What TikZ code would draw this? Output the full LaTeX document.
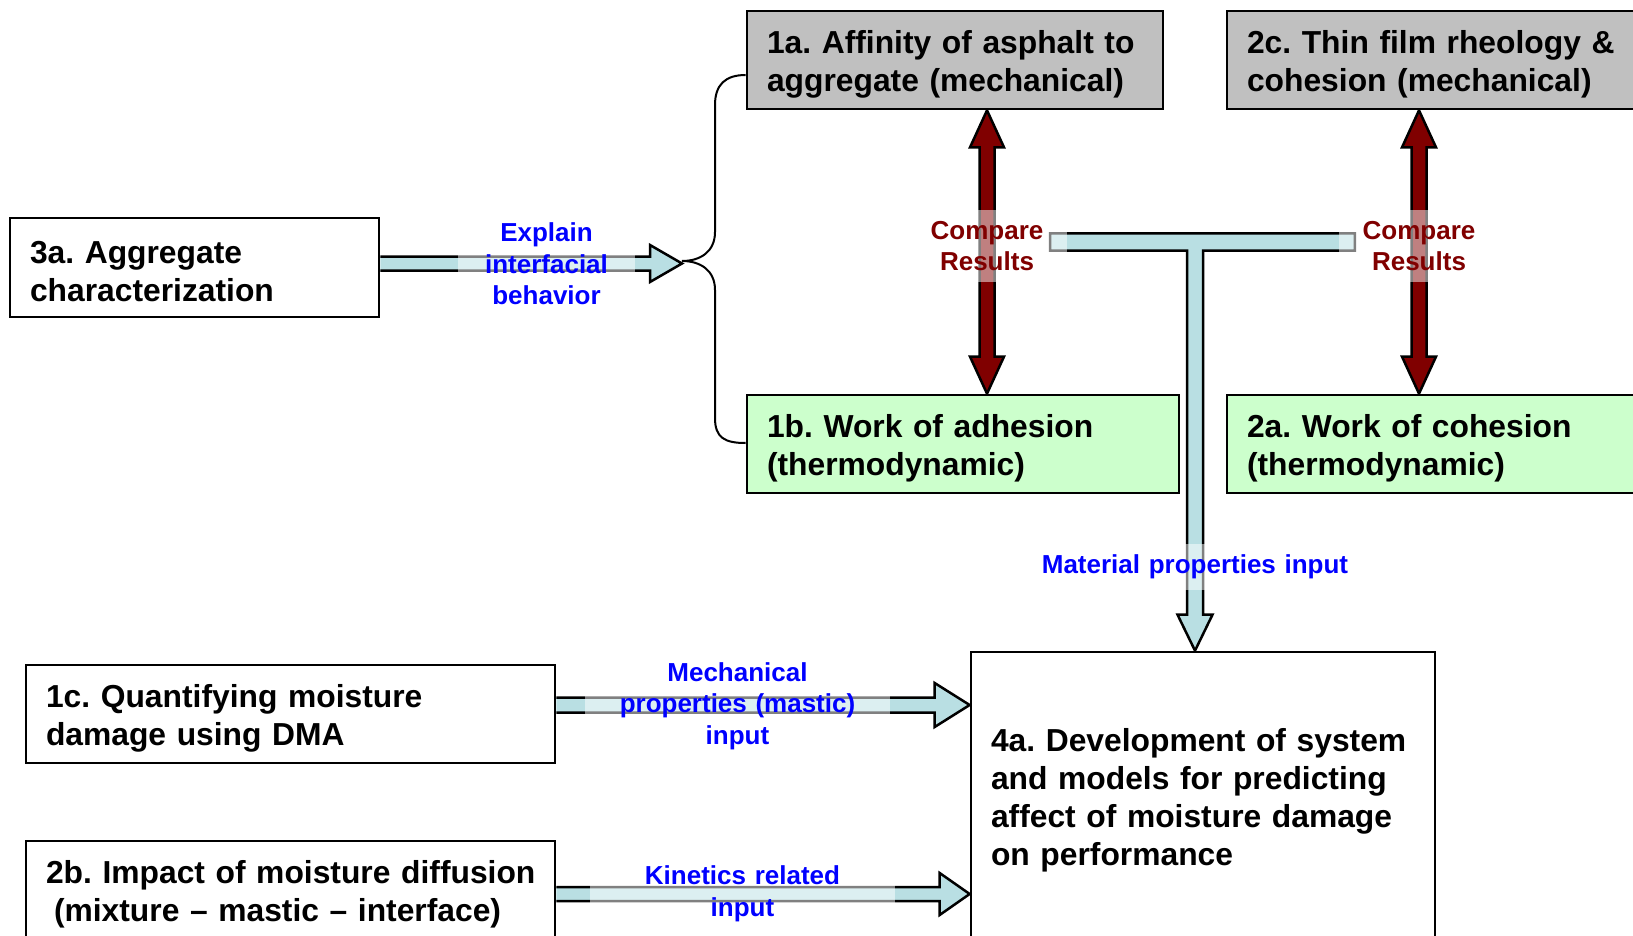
\documentclass[tikz,border=0pt]{standalone}
\usepackage{fontspec}
\setmainfont{Liberation Sans}
\usetikzlibrary{calc,backgrounds}
\frenchspacing
\definecolor{ablue}{RGB}{185,223,227}
\definecolor{maroon}{RGB}{128,0,0}
\definecolor{lblue}{RGB}{0,0,255}
\definecolor{boxgrey}{RGB}{192,192,192}
\definecolor{boxgreen}{RGB}{204,255,204}
\tikzset{
  box/.style={draw=black, line width=2.7pt, rectangle, inner xsep=20pt, inner ysep=2pt,
    align=left, font=\fontsize{31.8}{38}\selectfont\bfseries\frenchspacing,
    execute at begin node={\rule{0pt}{31pt}}},
  lbl/.style={fill=white, fill opacity=0.5, text opacity=1, inner xsep=0pt, inner ysep=11pt,
    align=center, font=\fontsize{26}{31.5}\selectfont\bfseries},
  bluelbl/.style={lbl, text=lblue},
  redlbl/.style={lbl, text=maroon},
  bluearrow/.style={draw=black, fill=ablue, line width=2.5pt, line join=miter, miter limit=10},
  redarrow/.style={draw=black, fill=maroon, line width=2.5pt, line join=miter, miter limit=10},
  bracestyle/.style={draw=black, line width=2pt},
}
\newcommand\hrarrow[5]{\draw[bluearrow] let \p1=(#1),\p2=(#2) in
  (\x1,\y1+#3) -- (\x2-#5,\y1+#3) -- (\x2-#5,\y1+#4) -- (\x2,\y1) -- (\x2-#5,\y1-#4)
  -- (\x2-#5,\y1-#3) -- (\x1,\y1-#3);}
\newcommand\vdarrow[2]{\draw[redarrow] let \p1=(#1),\p2=(#2) in
  (\x1,\y1) -- (\x1+17pt,\y1-37pt) -- (\x1+7.5pt,\y1-37pt) -- (\x1+7.5pt,\y2+37pt)
  -- (\x1+17pt,\y2+37pt) -- (\x1,\y2) -- (\x1-17pt,\y2+37pt) -- (\x1-7.5pt,\y2+37pt)
  -- (\x1-7.5pt,\y1-37pt) -- (\x1-17pt,\y1-37pt) -- cycle;}
\begin{document}
\begin{tikzpicture}[x=1pt,y=-1pt]
\useasboundingbox (0,0) rectangle (1633,936);
\clip (0,0) rectangle (1633,936);

% boxes
\node[box, fill=white, text width=329pt, minimum height=99pt] (b3a) at (194.5,267.5)
  {3a. Aggregate\\characterization};
\node[box, fill=boxgrey, text width=376pt, minimum height=98pt] (b1a) at (955,60)
  {\mbox{1a. Affinity of asphalt to}\\\mbox{aggregate (mechanical)}};
\node[box, fill=boxgreen, text width=392pt, minimum height=98pt] (b1b) at (963,444)
  {1b. Work of adhesion\\(thermodynamic)};
\node[box, fill=boxgrey, text width=368pt, minimum height=98pt] (b2c) at (1431,60)
  {\mbox{2c. Thin film rheology \&}\\\mbox{cohesion (mechanical)}};
\node[box, fill=boxgreen, text width=368pt, minimum height=98pt] (b2a) at (1431,444)
  {2a. Work of cohesion\\(thermodynamic)};
\node[box, fill=white, text width=489pt, minimum height=98pt] (b1c) at (290.5,714)
  {1c. Quantifying moisture\\damage using DMA};
\node[box, fill=white, text width=489pt, minimum height=98pt] (b2b) at (290.5,890)
  {\mbox{2b. Impact of moisture diffusion}\\\mbox{\hspace*{8pt}(mixture – mastic – interface)}};
\node[box, fill=white, text width=424pt, minimum height=288pt] (b4a) at (1203,796)
  {4a. Development of system\\and models for predicting\\affect of moisture damage\\on performance};

% labels
\node[bluelbl, text width=177pt] (lexp) at (546.5,264) {Explain\\interfacial\\behavior};
\node[redlbl, text width=160pt] (cmp1) at (987,246) {Compare\\Results};
\node[redlbl, text width=160pt] (cmp2) at (1419,246) {Compare\\Results};
\node[bluelbl, text width=320pt] (lmat) at (1195,567) {Material properties input};
\node[bluelbl, text width=305pt] (lmech) at (737.5,706) {Mechanical\\properties (mastic)\\input};
\node[bluelbl, text width=305pt] (lkin) at (742.5,894) {Kinetics related\\input};

\coordinate (brt) at (682,261);

\begin{scope}[on background layer]
  % brace
  \draw[bracestyle] ($(b1a.west)+(0,15)$) .. controls (725,75) and (715,85) .. (715,105)
    -- (715,232) .. controls (715,252) and (700,261) .. (brt)
    .. controls (700,261) and (715,270) .. (715,290)
    -- (715,418) .. controls (715,438) and (725,443) .. ($(b1b.west)+(0,-1)$);
  % blue arrows
  \hrarrow{$(b3a.east)+(0,-4)$}{brt}{7pt}{18.5pt}{32pt}
  \hrarrow{$(b1c.east)+(0,-9)$}{b4a.west}{7.5pt}{22pt}{35pt}
  \hrarrow{$(b2b.east)+(0,4)$}{b4a.west}{7pt}{21pt}{30pt}
  % T connector into 4a
  \draw[bluearrow] let \p1=($(cmp1.east)+(-17,-4)$), \p2=($(cmp2.west)+(16,-4)$),
      \p3=($(b4a.north)+(-8,0)$) in
    (\x1,\y1+8.5pt) -- (\x2,\y1+8.5pt) -- (\x2,\y1-8.5pt) -- (\x3+8pt,\y1-8.5pt)
    -- (\x3+8pt,\y3+36pt) -- (\x3+17.5pt,\y3+36pt) -- (\x3,\y3) -- (\x3-17.5pt,\y3+36pt)
    -- (\x3-8pt,\y3+36pt) -- (\x3-8pt,\y1-8.5pt) -- (\x1,\y1-8.5pt) -- cycle;
  % red double arrows
  \vdarrow{$(b1a.south)+(32,0)$}{b1b.north}
  \vdarrow{$(b2c.south)+(-12,0)$}{b2a.north}
\end{scope}
\end{tikzpicture}
\end{document}
